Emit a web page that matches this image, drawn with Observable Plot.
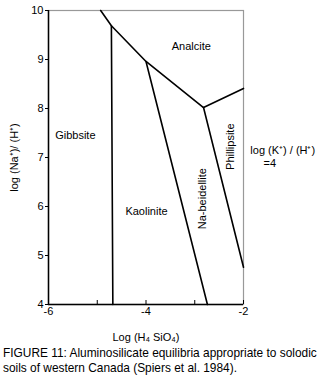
<!DOCTYPE html>
<html>
<head>
<meta charset="utf-8">
<script src="https://cdn.jsdelivr.net/npm/d3@7"></script>
<script src="https://cdn.jsdelivr.net/npm/@observablehq/plot@0.6"></script>
<style>
  body { margin: 0; background: #fff; font-family: "Liberation Sans", Arial, sans-serif; }
  #caption { font-size: 11.9px; line-height: 15px; padding-left: 3px; color: #000; margin-top: 3px; white-space: nowrap; }
</style>
</head>
<body>
<div id="chart"></div>
<div id="caption">FIGURE 11: Aluminosilicate equilibria appropriate to solodic<br>soils of western Canada (Spiers et al. 1984).</div>
<script>
// Phase boundaries (log H4SiO4, log Na+/H+)
const analciteBoundary = [[-4.93, 10], [-4.71, 9.69], [-4.0, 8.96], [-2.82, 8.02], [-2.0, 8.41]];
const gibbsiteKaolinite = [[-4.71, 9.69], [-4.68, 4]];
const kaoliniteBeidellite = [[-4.0, 8.96], [-2.74, 4]];
const beidellitePhillipsite = [[-2.82, 8.02], [-2.0, 4.76]];

// Region labels
const regionNames = ["Analcite", "Gibbsite", "Kaolinite"];
const regionX = [-3.07, -5.45, -3.99];
const regionY = [9.26, 7.45, 5.90];

const rotatedNames = ["Na-beidellite", "Phillipsite"];
const rotatedX = [-2.85, -2.27];
const rotatedY = [6.16, 7.22];

const noteLines = ["log (K\u207A) / (H\u207A)", "=4"];
const noteX = [-1.86, -1.59];
const noteY = [7.14, 6.88];

const xTicks = [-6, -5, -4, -3, -2];
const xTickLabels = [-6, -4, -2];
const yTicks = [4, 5, 6, 7, 8, 9, 10];

const lines = [analciteBoundary, gibbsiteKaolinite, kaoliniteBeidellite, beidellitePhillipsite];
const segs = lines.flatMap((l, i) => l.map(([x, y]) => ({x, y, id: i})));

const chart = Plot.plot({
  width: 326,
  height: 343,
  marginLeft: 48,
  marginRight: 83,
  marginTop: 10,
  marginBottom: 39,
  style: {fontFamily: "'Liberation Sans', Arial, sans-serif", fontSize: "11px", color: "#000", background: "#fff"},
  x: {domain: [-6, -2]},
  y: {domain: [4, 10]},
  marks: [
    Plot.frame({stroke: "#999", strokeWidth: 1.2}),
    Plot.ruleX([-6], {stroke: "#000", strokeWidth: 1.5}),
    Plot.ruleY([4], {stroke: "#000", strokeWidth: 1.5}),
    Plot.axisY({ticks: yTicks, tickSize: 3, tickPadding: 2, tickFormat: d3.format("d"), label: "log (Na\u207A)/ (H\u207A)", labelAnchor: "center", labelOffset: 38, labelArrow: "none"}),
    Plot.axisX({ticks: xTicks, tickSize: -4, tickFormat: () => "", label: null}),
    Plot.axisX({ticks: xTickLabels, tickSize: 0, tickPadding: 3, tickFormat: d => d, label: "Log (H\u2084 SiO\u2084)", labelAnchor: "center", labelOffset: 36, labelArrow: "none"}),
    Plot.line(segs, {x: "x", y: "y", z: "id", stroke: "#000", strokeWidth: 1.6}),
    Plot.text(regionNames, {x: (d, i) => regionX[i], y: (d, i) => regionY[i], text: d => d, fontSize: 11}),
    Plot.text(rotatedNames, {x: (d, i) => rotatedX[i], y: (d, i) => rotatedY[i], text: d => d, rotate: -90, fontSize: 11}),
    Plot.text(noteLines, {x: (d, i) => noteX[i], y: (d, i) => noteY[i], text: d => d, textAnchor: "start", fontSize: 11, clip: false})
  ]
});
document.getElementById("chart").appendChild(chart);
</script>
</body>
</html>
